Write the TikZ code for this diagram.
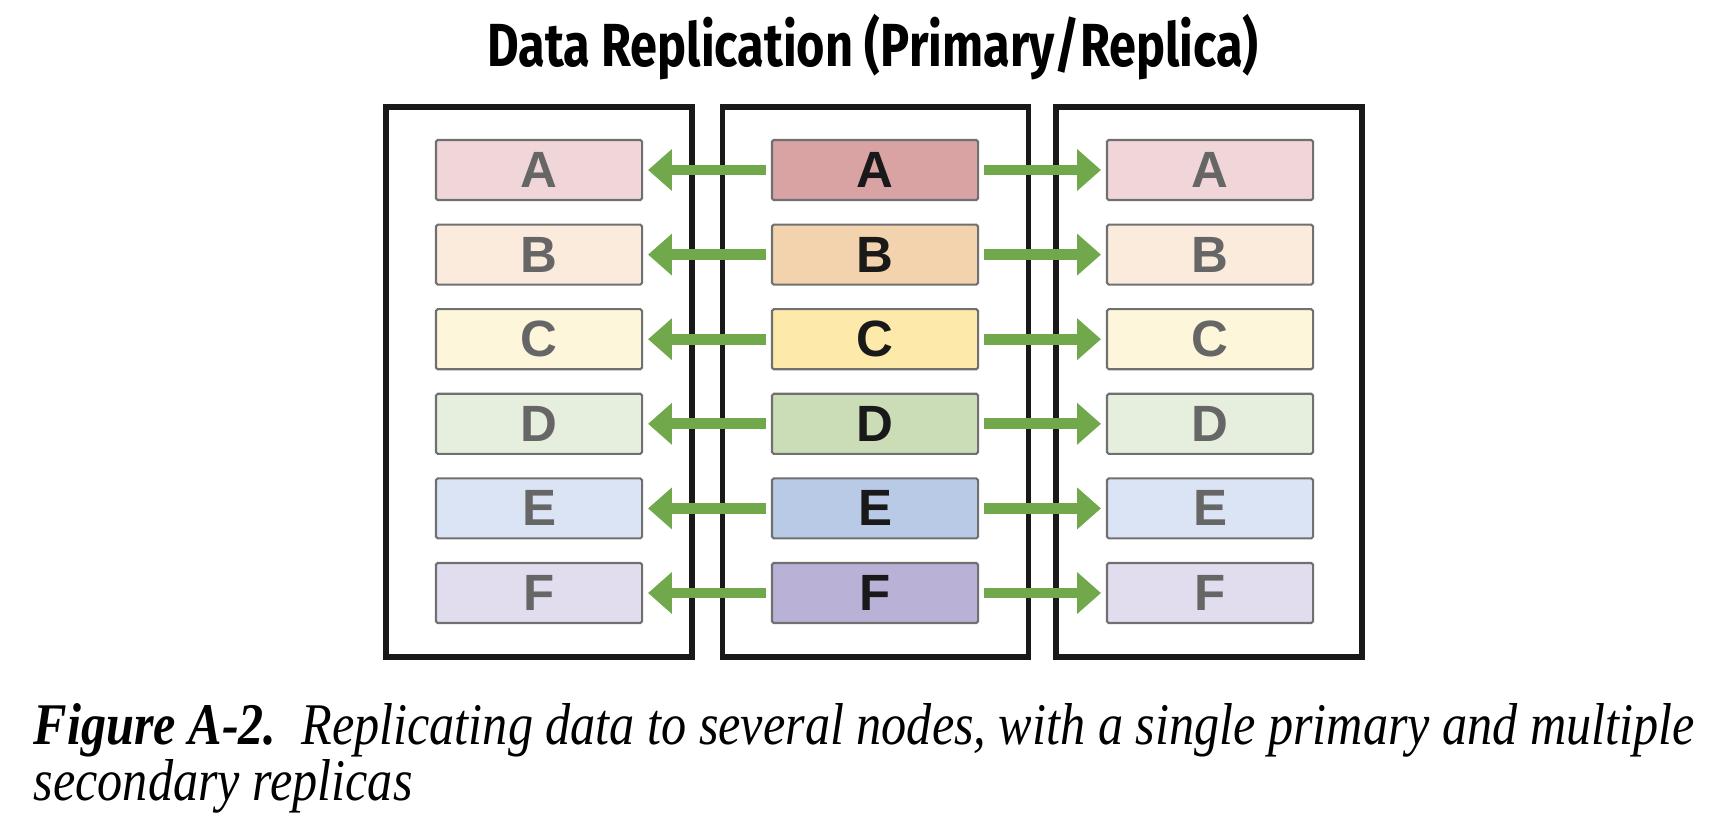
\documentclass[tikz,border=0pt]{standalone}
\usepackage{fontspec}
\setmainfont{Liberation Serif}
\newfontfamily\titlefont[FakeStretch=0.8]{Fira Sans}
\newfontfamily\shardfont{Liberation Sans}
\newfontfamily\captionfont[FakeStretch=0.85]{Liberation Serif}
\usetikzlibrary{arrows.meta}

\definecolor{primA}{HTML}{D9A3A4}
\definecolor{primB}{HTML}{F2D3AE}
\definecolor{primC}{HTML}{FDE9AA}
\definecolor{primD}{HTML}{CADDB7}
\definecolor{primE}{HTML}{B9CAE7}
\definecolor{primF}{HTML}{BAB1D7}
\definecolor{replA}{HTML}{F0D6D9}
\definecolor{replB}{HTML}{FAEBDD}
\definecolor{replC}{HTML}{FEF6DA}
\definecolor{replD}{HTML}{E6EFDD}
\definecolor{replE}{HTML}{DBE4F4}
\definecolor{replF}{HTML}{E2DDEE}
\definecolor{shardline}{HTML}{707070}
\definecolor{greyletter}{HTML}{666666}
\definecolor{arrowgreen}{HTML}{70A84B}

\begin{document}
\begin{tikzpicture}[x=0.01cm,y=-0.01cm]
\tikzstyle{server}=[rectangle,draw=black!90,line width=1.6pt,minimum width=3.06cm,minimum height=5.5cm,inner sep=0pt]
\tikzstyle{shard}=[rectangle,draw=shardline,line width=0.6pt,rounded corners=0.5pt,minimum width=2.06cm,minimum height=0.6cm,inner sep=0pt,font=\shardfont\bfseries\fontsize{14.5}{14.5}\selectfont]
\tikzstyle{copy}=[draw=arrowgreen,line width=3.1pt,-{Triangle[width=11.5pt,length=6.8pt]},shorten <=1.4pt,shorten >=1.4pt]
\useasboundingbox (0,0) rectangle (1716,824);
% title
\node (title) at (873,47) {\titlefont\bfseries\fontsize{17.3}{20}\selectfont Data Replication (Primary/Replica)};
% the three servers
\node[server] (left) at (539,382) {};
\node[server] (primary) at (875.5,382) {};
\node[server] (right) at (1209,382) {};
% shards and replication arrows
\foreach \l/\i in {A/0,B/1,C/2,D/3,E/4,F/5} {
  \node[shard,fill=prim\l,text=black!90] (p\l) at (875,{170+84.6*\i}) {\l};
  \node[shard,fill=repl\l,text=greyletter] (l\l) at (539,{170+84.6*\i}) {\l};
  \node[shard,fill=repl\l,text=greyletter] (r\l) at (1210,{170+84.6*\i}) {\l};
  \draw[copy] (p\l.west) -- (l\l.east);
  \draw[copy] (p\l.east) -- (r\l.west);
}
% caption
\node[anchor=base west,inner sep=0pt] (cap1) at (33,744) {\captionfont\fontsize{16.8}{20}\selectfont\itshape\textbf{Figure A-2.}\ \ Replicating data to several nodes, with a single primary and multiple};
\node[anchor=base west,inner sep=0pt] (cap2) at (33,800) {\captionfont\fontsize{16.8}{20}\selectfont\itshape secondary replicas};
\end{tikzpicture}
\end{document}
